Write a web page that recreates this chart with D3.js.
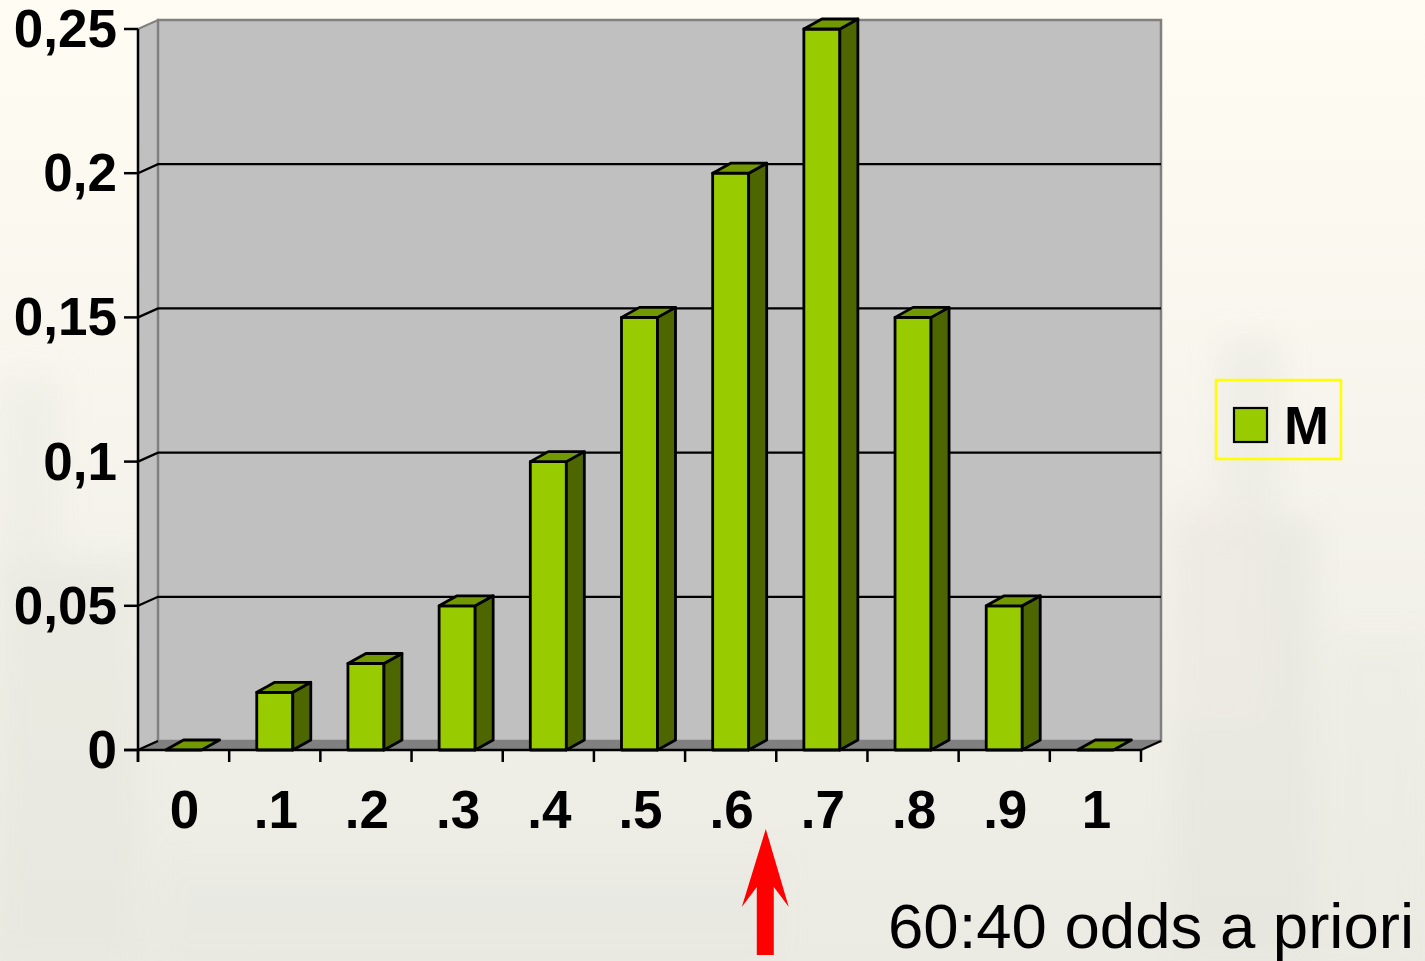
<!DOCTYPE html>
<html>
<head>
<meta charset="utf-8">
<script src="https://cdn.jsdelivr.net/npm/d3@7"></script>
<style>
  html, body { margin: 0; padding: 0; overflow: hidden; background: #f4f2ea; }
  svg { display: block; }
  text { font-family: "Liberation Sans", Arial, sans-serif; }
</style>
</head>
<body>
<svg id="chart" width="1425" height="961"></svg>
<script>
// Probability of each outcome of M
const categories = ["0", ".1", ".2", ".3", ".4", ".5", ".6", ".7", ".8", ".9", "1"];
const values = [0, 0.02, 0.03, 0.05, 0.10, 0.15, 0.20, 0.25, 0.15, 0.05, 0];
const yTicks = [0, 0.05, 0.10, 0.15, 0.20, 0.25];
const yTickLabels = ["0", "0,05", "0,1", "0,15", "0,2", "0,25"];
const seriesName = "M";
const noteText = "60:40 odds a priori";

(function draw() {
  const W = 1425, H = 961;
  const svg = d3.select("#chart");

  // Plot frame (front plane) and 3D depth offsets
  const pL = 138, pR = 1141, pT = 29, pB = 750;
  const wallDx = 20, wallDy = 9;     // depth of walls / floor
  const barDx = 18, barDy = 10;      // depth of each column

  const x = d3.scaleBand().domain(categories).range([pL, pR]).padding(0);
  const y = d3.scaleLinear().domain([0, 0.25]).range([pB, pT]);
  const barW = x.bandwidth() * 0.395;

  const colFront = "#99cc00", colTop = "#739900", colSide = "#4d6600";
  const wallFill = "#c0c0c0", wallEdge = "#808080", floorFill = "#808080";

  // ---- slide background: pale cream with soft smudges ----
  const defs = svg.append("defs");
  const bg = defs.append("linearGradient").attr("id", "bg").attr("x1", 0).attr("y1", 0).attr("x2", 0).attr("y2", 1);
  bg.append("stop").attr("offset", "0%").attr("stop-color", "#fffdf3");
  bg.append("stop").attr("offset", "45%").attr("stop-color", "#f6f4ec");
  bg.append("stop").attr("offset", "100%").attr("stop-color", "#ebebe3");
  defs.append("filter").attr("id", "soft").attr("x", "-50%").attr("y", "-50%").attr("width", "200%").attr("height", "200%")
    .append("feGaussianBlur").attr("stdDeviation", 14);

  svg.append("rect").attr("width", W).attr("height", H).attr("fill", "url(#bg)");
  const smudges = svg.append("g").attr("filter", "url(#soft)");
  [
    [1175, 520, 140, 441, "#e5e5de", 0.6],
    [1220, 340, 60, 200, "#e8e8e1", 0.5],
    [1330, 640, 95, 321, "#ebebe4", 0.5],
    [0, 560, 140, 401, "#e6e6de", 0.6],
    [0, 380, 60, 180, "#ebebe3", 0.5],
    [1180, 500, 80, 220, "#f1ebe6", 0.5],
    [160, 860, 620, 101, "#e7e7e0", 0.4]
  ].forEach(([sx, sy, sw, sh, c, o]) => {
    smudges.append("rect").attr("x", sx).attr("y", sy).attr("width", sw).attr("height", sh)
      .attr("fill", c).attr("opacity", o);
  });

  // ---- walls and floor ----
  const walls = svg.append("g");
  // left side wall
  walls.append("polygon")
    .attr("points", [[pL, pT], [pL + wallDx, pT - wallDy], [pL + wallDx, pB - wallDy], [pL, pB]].join(" "))
    .attr("fill", wallFill).attr("stroke", wallEdge).attr("stroke-width", 2);
  // back wall
  walls.append("rect")
    .attr("x", pL + wallDx).attr("y", pT - wallDy)
    .attr("width", pR - pL).attr("height", pB - pT)
    .attr("fill", wallFill).attr("stroke", wallEdge).attr("stroke-width", 2.5);
  // gridlines on side and back walls
  yTicks.filter(d => d > 0 && d < 0.25).forEach(d => {
    walls.append("path")
      .attr("d", `M${pL},${y(d)}L${pL + wallDx},${y(d) - wallDy}L${pR + wallDx},${y(d) - wallDy}`)
      .attr("fill", "none").attr("stroke", "#000").attr("stroke-width", 2.3);
  });
  // floor
  walls.append("polygon")
    .attr("points", [[pL, pB], [pL + wallDx, pB - wallDy], [pR + wallDx, pB - wallDy], [pR, pB]].join(" "))
    .attr("fill", floorFill);
  walls.append("path")
    .attr("d", `M${pL},${pB}L${pL + wallDx},${pB - wallDy}M${pR},${pB}L${pR + wallDx},${pB - wallDy}`)
    .attr("stroke", "#000").attr("stroke-width", 2.3);

  // ---- columns ----
  const bars = svg.append("g").attr("stroke", "#000").attr("stroke-width", 2.8).attr("stroke-linejoin", "round");
  categories.forEach((c, i) => {
    const v = values[i];
    const x0 = x(c) + (x.bandwidth() - barW) / 2, x1 = x0 + barW;
    const yt = y(v), yb = y(0);
    const g = bars.append("g");
    if (v > 0) {
      g.append("rect").attr("x", x0).attr("y", yt).attr("width", barW).attr("height", yb - yt).attr("fill", colFront);
      g.append("polygon")
        .attr("points", [[x1, yt], [x1 + barDx, yt - barDy], [x1 + barDx, yb - barDy], [x1, yb]].join(" "))
        .attr("fill", colSide);
    }
    g.append("polygon")
      .attr("points", [[x0, yt], [x0 + barDx, yt - barDy], [x1 + barDx, yt - barDy], [x1, yt]].join(" "))
      .attr("fill", colTop);
  });

  // ---- axes ----
  const axes = svg.append("g").attr("stroke", "#000").attr("stroke-width", 2.5);
  axes.append("line").attr("x1", pL).attr("x2", pL).attr("y1", pT).attr("y2", pB + 12);
  axes.append("line").attr("x1", pL - 14).attr("x2", pR).attr("y1", pB).attr("y2", pB);
  yTicks.forEach(d => {
    axes.append("line").attr("x1", pL - 14).attr("x2", pL).attr("y1", y(d)).attr("y2", y(d));
  });
  categories.concat([null]).forEach(c => {
    const xx = c === null ? pR : x(c);
    axes.append("line").attr("x1", xx).attr("x2", xx).attr("y1", pB).attr("y2", pB + 12);
  });

  // y tick labels
  svg.append("g").selectAll("text").data(yTicks).join("text")
    .attr("x", pL - 21).attr("y", d => y(d) + 18)
    .attr("text-anchor", "end").attr("font-size", 53).attr("font-weight", "bold").attr("fill", "#000")
    .text((d, i) => yTickLabels[i]);

  // x tick labels
  svg.append("g").selectAll("text").data(categories).join("text")
    .attr("x", d => x(d) + x.bandwidth() / 2 + 1).attr("y", 828)
    .attr("text-anchor", "middle").attr("font-size", 53).attr("font-weight", "bold").attr("fill", "#000")
    .text(d => d);

  // ---- legend ----
  const lg = svg.append("g");
  lg.append("rect").attr("x", 1216).attr("y", 380).attr("width", 125).attr("height", 79)
    .attr("fill", "none").attr("stroke", "#ffff00").attr("stroke-width", 2.5);
  lg.append("rect").attr("x", 1234).attr("y", 408).attr("width", 33).attr("height", 34)
    .attr("fill", colFront).attr("stroke", "#000").attr("stroke-width", 2.2);
  lg.append("text").attr("x", 1284).attr("y", 444).attr("font-size", 54).attr("font-weight", "bold")
    .attr("fill", "#000").text(seriesName);

  // ---- annotation arrow and note ----
  const ax = x(".6") + x.bandwidth() * 0.885;
  svg.append("polygon")
    .attr("points", [[ax, 829], [ax + 23, 907], [ax + 8, 887], [ax + 8, 955], [ax - 9, 955], [ax - 9, 887], [ax - 24, 907]].join(" "))
    .attr("fill", "#ff0000");
  svg.append("text").attr("x", 888).attr("y", 948).attr("font-size", 63.5).attr("fill", "#000").text(noteText);
})();
</script>
</body>
</html>
